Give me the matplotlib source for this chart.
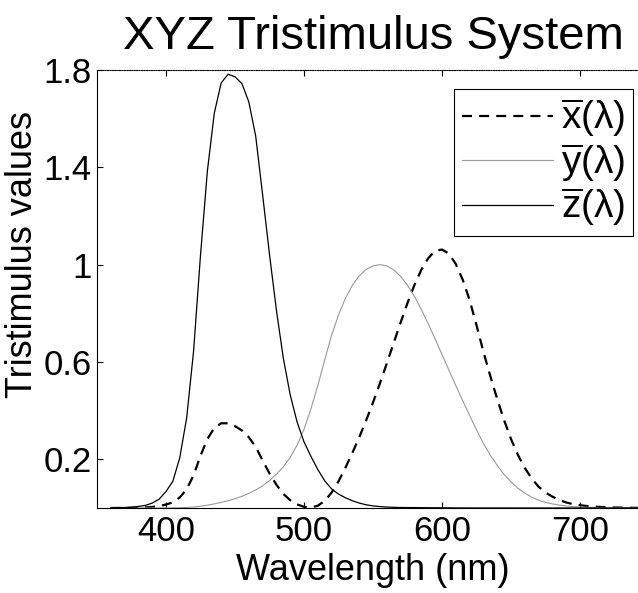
# CIE 1931 colour matching functions - XYZ tristimulus curves
import matplotlib
matplotlib.use('Agg')
import matplotlib.pyplot as plt

plt.rcParams['font.family'] = ['Liberation Sans', 'DejaVu Sans']
plt.rcParams['mathtext.fontset'] = 'custom'
plt.rcParams['mathtext.rm'] = 'Liberation Sans'
plt.rcParams['mathtext.it'] = 'Liberation Sans'

# wavelength (nm), 5 nm steps
wavelength = [360, 365, 370, 375, 380, 385, 390, 395, 400, 405, 410, 415, 420, 425,
              430, 435, 440, 445, 450, 455, 460, 465, 470, 475, 480, 485, 490, 495,
              500, 505, 510, 515, 520, 525, 530, 535, 540, 545, 550, 555, 560, 565,
              570, 575, 580, 585, 590, 595, 600, 605, 610, 615, 620, 625, 630, 635,
              640, 645, 650, 655, 660, 665, 670, 675, 680, 685, 690, 695, 700, 705,
              710, 715, 720, 725, 730, 735, 740, 745, 750, 755, 760]
x_bar = [0.00013, 0.00023, 0.00042, 0.00074, 0.00137, 0.00224, 0.00424, 0.00765,
         0.01431, 0.02319, 0.04351, 0.07763, 0.13438, 0.21477, 0.28390, 0.32850,
         0.34828, 0.34806, 0.33620, 0.31870, 0.29080, 0.25110, 0.19536, 0.14210,
         0.09564, 0.05795, 0.03201, 0.01470, 0.00490, 0.00240, 0.00930, 0.02910,
         0.06327, 0.10960, 0.16550, 0.22575, 0.29040, 0.35970, 0.43345, 0.51205,
         0.59450, 0.67840, 0.76210, 0.84250, 0.91630, 0.97860, 1.02630, 1.05670,
         1.06220, 1.04560, 1.00260, 0.93840, 0.85445, 0.75140, 0.64240, 0.54190,
         0.44790, 0.36080, 0.28350, 0.21870, 0.16490, 0.12120, 0.08740, 0.06360,
         0.04677, 0.03290, 0.02270, 0.01584, 0.01136, 0.00811, 0.00579, 0.00411,
         0.00290, 0.00205, 0.00144, 0.00100, 0.00069, 0.00048, 0.00033, 0.00023,
         0.00017]
y_bar = [0.000004, 0.000007, 0.000012, 0.000022, 0.000039, 0.000064, 0.00012, 0.000217,
         0.000396, 0.00064, 0.00121, 0.00218, 0.0040, 0.0073, 0.0116, 0.01684,
         0.0230, 0.0298, 0.0380, 0.0480, 0.0600, 0.0739, 0.09098, 0.1126,
         0.13902, 0.1693, 0.20802, 0.2586, 0.3230, 0.4073, 0.5030, 0.6082,
         0.7100, 0.7932, 0.8620, 0.91485, 0.9540, 0.9803, 0.99495, 1.0000,
         0.9950, 0.9786, 0.9520, 0.9154, 0.8700, 0.8163, 0.7570, 0.6949,
         0.6310, 0.5668, 0.5030, 0.4412, 0.3810, 0.3210, 0.2650, 0.2170,
         0.1750, 0.1382, 0.1070, 0.0816, 0.0610, 0.04458, 0.0320, 0.0232,
         0.0170, 0.01192, 0.00821, 0.005723, 0.004102, 0.002929, 0.002091, 0.001484,
         0.001047, 0.00074, 0.00052, 0.000361, 0.000249, 0.000172, 0.00012, 0.000085,
         0.00006]
z_bar = [0.000606, 0.001086, 0.001946, 0.003486, 0.00645, 0.01055, 0.02005, 0.03621,
         0.06785, 0.1102, 0.2074, 0.3713, 0.6456, 1.03905, 1.3856, 1.62296,
         1.74706, 1.7826, 1.77211, 1.7441, 1.6692, 1.5281, 1.28764, 1.0419,
         0.81295, 0.6162, 0.46518, 0.3533, 0.2720, 0.2123, 0.1582, 0.1117,
         0.07825, 0.05725, 0.04216, 0.02984, 0.0203, 0.0134, 0.00875, 0.00575,
         0.0039, 0.00275, 0.0021, 0.0018, 0.00165, 0.0014, 0.0011, 0.0010,
         0.0008, 0.0006, 0.00034, 0.00024, 0.00019, 0.0001, 0.00005, 0.00003,
         0.00002, 0.00001, 0, 0, 0, 0, 0, 0,
         0, 0, 0, 0, 0, 0, 0, 0,
         0, 0, 0, 0, 0, 0, 0, 0,
         0]

fig = plt.figure(figsize=(6.38, 5.93), dpi=100)
ax = fig.add_axes([97 / 638, 85 / 593, 552 / 638, 438 / 593])

ax.plot(wavelength, x_bar, color='black', lw=1.6, dashes=(4.5, 3.2),
        label=r'$\overline{\mathrm{x}}(\lambda)$')
ax.plot(wavelength, y_bar, color='#999999', lw=0.8,
        label=r'$\overline{\mathrm{y}}(\lambda)$')
ax.plot(wavelength, z_bar, color='black', lw=0.9,
        label=r'$\overline{\mathrm{z}}(\lambda)$')

ax.set_xlim(350, 750)
ax.set_ylim(0, 1.8)
ax.set_xticks([400, 500, 600, 700])
ax.set_yticks([0.2, 0.6, 1, 1.4, 1.8])
ax.set_yticklabels(['0.2', '0.6', '1', '1.4', '1.8'])
ax.tick_params(direction='in', length=4, width=0.8, labelsize=25, pad=5,
               top=True, right=False)
ax.tick_params(axis='y', pad=4)
ax.spines['top'].set_linestyle((0, (1, 1.2)))
ax.spines['right'].set_visible(False)

ax.set_title('XYZ Tristimulus System', fontsize=34, pad=15)
ax.set_xlabel('Wavelength (nm)', fontsize=26, labelpad=4)
ax.set_ylabel('Tristimulus values', fontsize=26)
ax.yaxis.set_label_coords(-0.103, 0.578)

leg = ax.legend(loc='upper right', bbox_to_anchor=(0.971, 0.957), borderaxespad=0,
                fontsize=28, handlelength=2.35, handletextpad=0.2, labelspacing=0.05,
                borderpad=0.2, fancybox=False, framealpha=1, edgecolor='black')
leg.get_frame().set_linewidth(0.8)

plt.savefig('out.png', dpi=100)
plt.close()
